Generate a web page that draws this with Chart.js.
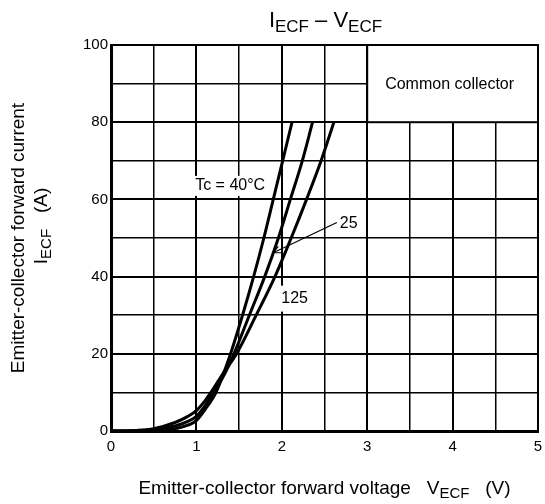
<!DOCTYPE html>
<html><head><meta charset="utf-8">
<script src="https://cdn.jsdelivr.net/npm/chart.js@4/dist/chart.umd.min.js"></script>
<style>html,body{margin:0;padding:0;background:#fff;overflow:hidden}#wrap{width:545px;height:504px;position:relative}</style>
</head><body><div id="wrap"><canvas id="c"></canvas></div>
<script>
// Series (V in volts, I in amperes)
const seriesNames = ['Tc = 40°C', '25', '125'];
const vM40 = [0, 0.5, 0.75, 0.9, 1.0, 1.1, 1.23, 1.32, 1.40, 1.54, 1.67, 1.79, 1.90, 2.01, 2.12];
const iM40 = [0, 0.1, 0.6, 1.5, 2.7, 5.5, 10, 15, 20, 30, 40, 50, 60, 70, 80];
const v25  = [0, 0.3, 0.5, 0.75, 0.9, 1.0, 1.1, 1.2, 1.3, 1.44, 1.62, 1.80, 1.96, 2.10, 2.24, 2.36];
const i25  = [0, 0.05, 0.3, 1.3, 2.5, 3.8, 6.5, 10, 13.5, 20, 30, 40, 50, 60, 70, 80];
const v125 = [0, 0.3, 0.5, 0.75, 0.9, 1.0, 1.1, 1.17, 1.3, 1.47, 1.70, 1.92, 2.11, 2.29, 2.46, 2.61];
const i125 = [0, 0.15, 0.6, 2.2, 3.8, 5.3, 7.8, 10, 14.5, 20, 30, 40, 50, 60, 70, 80];
const xTickLabels = ['0', '1', '2', '3', '4', '5'];
const yTickLabels = ['0', '20', '40', '60', '80', '100'];

const FONT = "'Liberation Sans', Arial, Helvetica, sans-serif";

function pts(vs, is) { return vs.map((v, k) => ({ x: v, y: is[k] })); }
function ds(label, vs, is) {
  return { label, data: pts(vs, is), showLine: true, borderColor: '#000', backgroundColor: '#000',
    borderWidth: 3, pointRadius: 0, cubicInterpolationMode: 'monotone', fill: false };
}

function drawRich(ctx, parts, x, y, base, sub, subDy, align) {
  let w = 0;
  parts.forEach(p => { ctx.font = (p.sub ? sub : base) + 'px ' + FONT; p.w = ctx.measureText(p.t).width; w += p.w; });
  let cx = align === 'center' ? x - w / 2 : x;
  ctx.textAlign = 'left'; ctx.textBaseline = 'alphabetic';
  parts.forEach(p => {
    ctx.font = (p.sub ? sub : base) + 'px ' + FONT;
    ctx.fillText(p.t, cx, y + (p.sub ? subDy : 0));
    cx += p.w;
  });
}

const decor = {
  id: 'decor',
  beforeDatasetsDraw(chart) {
    const { ctx, scales: { x, y } } = chart;
    ctx.save();
    // Common collector box
    const bx1 = x.getPixelForValue(3), bx2 = x.getPixelForValue(5);
    const by1 = y.getPixelForValue(100), by2 = y.getPixelForValue(80);
    ctx.fillStyle = '#fff';
    ctx.fillRect(bx1, by1, bx2 - bx1, by2 - by1);
    ctx.strokeStyle = '#000'; ctx.lineWidth = 2;
    ctx.strokeRect(bx1, by1, bx2 - bx1, by2 - by1);
    ctx.fillStyle = '#000';
    ctx.font = '16px ' + FONT; ctx.textAlign = 'center'; ctx.textBaseline = 'middle';
    ctx.fillText('Common collector', (bx1 + bx2) / 2 - 3, y.getPixelForValue(89.8));

    // labels with white background
    function lab(t, vx, vy, padX, padY) {
      const px = x.getPixelForValue(vx), py = y.getPixelForValue(vy);
      ctx.font = '16px ' + FONT;
      const w = ctx.measureText(t).width;
      ctx.fillStyle = '#fff';
      ctx.fillRect(px - w / 2 - padX, py - 9 - padY, w + 2 * padX, 18 + 2 * padY);
      ctx.fillStyle = '#000'; ctx.textAlign = 'center'; ctx.textBaseline = 'middle';
      ctx.fillText(t, px, py);
    }
    lab(seriesNames[0], 1.395, 63.5, 2, 1);
    lab(seriesNames[2], 2.15, 34.3, 2, 4);
    // "25" label and leader arrow
    ctx.font = '16px ' + FONT; ctx.fillStyle = '#000'; ctx.textAlign = 'left'; ctx.textBaseline = 'middle';
    ctx.fillText(seriesNames[1], x.getPixelForValue(2.68), y.getPixelForValue(53.7));
    const ax1 = x.getPixelForValue(2.645), ay1 = y.getPixelForValue(54.0);
    const ax2 = x.getPixelForValue(1.90), ay2 = y.getPixelForValue(46.2);
    ctx.strokeStyle = '#000'; ctx.lineWidth = 1.2;
    ctx.beginPath(); ctx.moveTo(ax1, ay1); ctx.lineTo(ax2, ay2); ctx.stroke();
    const ang = Math.atan2(ay1 - ay2, ax1 - ax2);
    ctx.beginPath();
    ctx.moveTo(ax2 + 8 * Math.cos(ang + 0.45), ay2 + 8 * Math.sin(ang + 0.45));
    ctx.lineTo(ax2, ay2);
    ctx.lineTo(ax2 + 8 * Math.cos(ang - 0.45), ay2 + 8 * Math.sin(ang - 0.45));
    ctx.stroke();
    ctx.restore();
  },
  afterDraw(chart) {
    const { ctx, chartArea: a } = chart;
    ctx.save();
    ctx.fillStyle = '#000';
    const cx = (a.left + a.right) / 2;
    drawRich(ctx, [{ t: 'I' }, { t: 'ECF', sub: true }, { t: ' – V' }, { t: 'ECF', sub: true }], cx + 1, 27, 22, 17, 5, 'center');
    drawRich(ctx, [{ t: 'Emitter-collector forward voltage   V' }, { t: 'ECF', sub: true }, { t: '   (V)' }], cx, 494, 19, 15, 4, 'center');
    ctx.save();
    ctx.translate(24, (a.top + a.bottom) / 2);
    ctx.rotate(-Math.PI / 2);
    drawRich(ctx, [{ t: 'Emitter-collector forward current' }], 0, 0, 19, 15, 4, 'center');
    ctx.restore();
    ctx.save();
    ctx.translate(47, (a.top + a.bottom) / 2 - 12);
    ctx.rotate(-Math.PI / 2);
    drawRich(ctx, [{ t: 'I' }, { t: 'ECF', sub: true }, { t: '   (A)' }], 0, 0, 19, 15, 4, 'center');
    ctx.restore();
    ctx.restore();
  }
};

new Chart(document.getElementById('c'), {
  type: 'scatter',
  data: { datasets: [ds(seriesNames[0], vM40, iM40), ds(seriesNames[1], v25, i25), ds(seriesNames[2], v125, i125)] },
  options: {
    responsive: true, maintainAspectRatio: false, animation: false,
    layout: { padding: { top: 45, right: 7, left: 0, bottom: 0 } },
    plugins: { legend: { display: false }, tooltip: { enabled: false }, title: { display: false } },
    scales: {
      x: {
        type: 'linear', min: 0, max: 5,
        afterFit: s => { s.height = 73; s.paddingLeft = 0; s.paddingRight = 0; },
        ticks: { stepSize: 0.5, autoSkip: false, maxRotation: 0, padding: 7, color: '#000',
          font: { family: FONT, size: 15 },
          callback: v => Number.isInteger(v) ? xTickLabels[v] : '' },
        grid: { color: '#000', drawTicks: false, lineWidth: c => Number.isInteger(c.tick.value) ? 2 : 1.5 },
        border: { color: '#000', width: 3 }
      },
      y: {
        type: 'linear', min: 0, max: 100,
        afterFit: s => { s.width = 111; s.paddingTop = 0; s.paddingBottom = 0; },
        ticks: { stepSize: 10, autoSkip: false, padding: 3, color: '#000',
          font: { family: FONT, size: 15 },
          callback: v => v % 20 === 0 ? yTickLabels[v / 20] : '' },
        grid: { color: '#000', drawTicks: false, lineWidth: c => c.tick.value % 20 === 0 ? 2 : 1.5 },
        border: { color: '#000', width: 3 }
      }
    }
  },
  plugins: [decor]
});
</script></body></html>
